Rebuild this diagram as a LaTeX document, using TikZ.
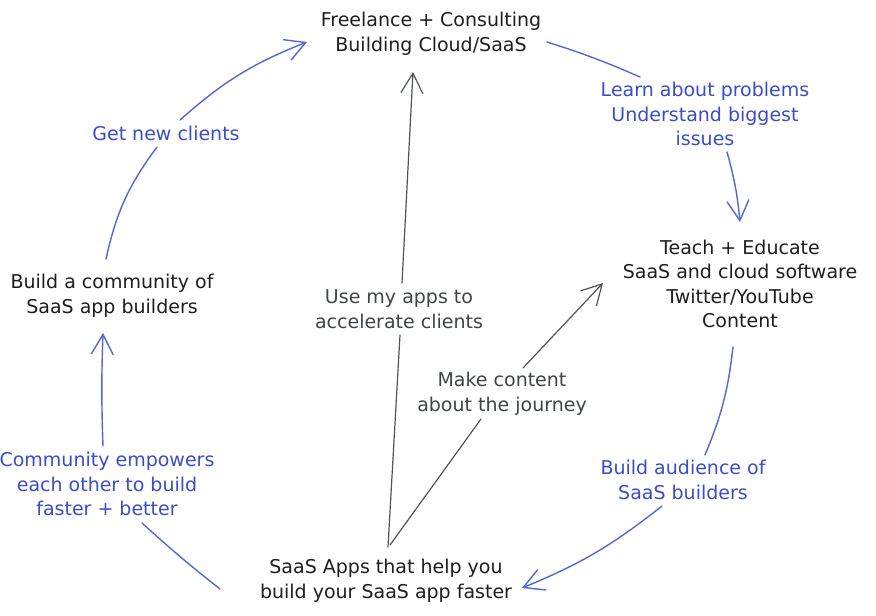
\documentclass[tikz,border=0pt]{standalone}
\usepackage{fontspec}
\setmainfont{DejaVu Sans}
\usetikzlibrary{arrows.meta}
\definecolor{ink}{HTML}{1E1E1E}
\definecolor{bluetxt}{HTML}{3B4CC8}
\definecolor{blueln}{HTML}{5467D6}
\definecolor{graytxt}{HTML}{3F444A}
\definecolor{grayln}{HTML}{4F545A}
\begin{document}
\begin{tikzpicture}[x=1pt,y=1pt,
  every node/.style={font=\fontsize{19}{24.5}\selectfont, align=center, inner sep=0pt},
  main/.style={text=ink},
  bl/.style={text=bluetxt},
  gl/.style={text=graytxt},
  bedge/.style={draw=blueln, line width=1.4pt, line cap=round},
  gedge/.style={draw=grayln, line width=1.2pt, line cap=round},
  tip/.style={-{Straight Barb[length=20pt,width=22pt]}}
]
\useasboundingbox (0,-616) rectangle (876,0);

\node[main] (top) at (431,-34) {Freelance + Consulting\\Building Cloud/SaaS};
\node[main] (right) at (740,-284) {Teach + Educate\\SaaS and cloud software\\Twitter/YouTube\\Content};
\node[main] (bottom) at (386,-581) {SaaS Apps that help you\\build your SaaS app faster};
\node[main] (left) at (112,-296) {Build a community of\\SaaS app builders};
\node[bl] (getl) at (166,-133) {Get new clients};
\node[bl] (learnl) at (705,-114) {Learn about problems\\Understand biggest\\issues};
\node[bl] (audl) at (683,-480) {Build audience of\\SaaS builders};
\node[bl] (comml) at (107,-484) {Community empowers\\each other to build\\faster + better};
\node[gl] (usel) at (399,-309) {Use my apps to\\accelerate clients};
\node[gl] (makel) at (502,-394) {Make content\\about the journey};

% left -> top
\draw[bedge] ([shift={(-6,37)}]left.center) to[bend left=12] ([shift={(-9,-14)}]getl.center);
\draw[bedge,tip] ([shift={(14,13)}]getl.center) to[bend left=10] ([shift={(-124,-8)}]top.center);
% top -> right
\draw[bedge] ([shift={(116,-8)}]top.center) to[bend left=3] ([shift={(-65,37)}]learnl.center);
\draw[bedge,tip] ([shift={(22,-38)}]learnl.center) to[bend left=5] ([shift={(0,62)}]right.center);
% right -> bottom
\draw[bedge] ([shift={(-7,-63)}]right.center) to[bend left=8] ([shift={(22,25)}]audl.center);
\draw[bedge,tip] ([shift={(-21,-26)}]audl.center) to[bend left=8] ([shift={(136,-7)}]bottom.center);
% bottom -> left
\draw[bedge] ([shift={(-166,-8)}]bottom.center) to[bend left=2] ([shift={(35,-39)}]comml.center);
\draw[bedge,tip] ([shift={(-4,38)}]comml.center) to[bend left=2] ([shift={(-9,-37)}]left.center);
% bottom -> top (gray)
\draw[gedge] ([shift={(2,34)}]bottom.center) -- ([shift={(1,-26)}]usel.center);
\draw[gedge,tip] ([shift={(3,26)}]usel.center) -- ([shift={(-18,-38)}]top.center);
% bottom -> right (gray)
\draw[gedge] ([shift={(4,36)}]bottom.center) -- ([shift={(-21,-25)}]makel.center);
\draw[gedge,tip] ([shift={(21,26)}]makel.center) -- ([shift={(-137,1)}]right.center);
\end{tikzpicture}
\end{document}
